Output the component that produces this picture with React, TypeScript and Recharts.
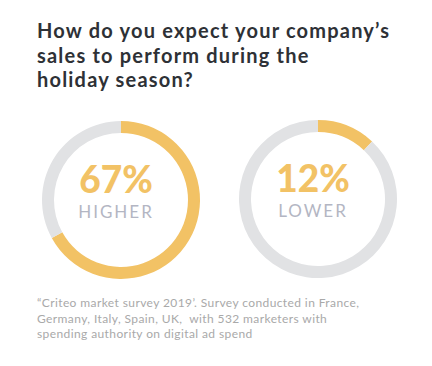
import React from 'react';
import { PieChart, Pie, Cell } from 'recharts';

const categories = ['HIGHER', 'LOWER'];
const percents = [67, 12];
const title = ['How do you expect your company\u2019s', 'sales to perform during the', 'holiday season?'];
const footnote = [
  '\u201CCriteo market survey 2019\u2019. Survey conducted in France,',
  'Germany, Italy, Spain, UK,  with 532 marketers with',
  'spending authority on digital ad spend',
];

const ORANGE = '#F2C265';
const GRAY = '#E1E2E4';
const centers = [
  { cx: 116, cy: 195 },
  { cx: 313, cy: 194 },
];
const FONT = 'Lato, "Open Sans", sans-serif';

export default function App() {
  return (
    <div style={{ position: 'absolute', left: 0, top: 0, width: 432, height: 366, background: '#fff', fontFamily: FONT }}>
      <div style={{ position: 'absolute', left: 37, top: 18, fontSize: 20, fontWeight: 700, color: '#2E3136', lineHeight: '24.5px', letterSpacing: 1.2 }}>
        {title.map((t, i) => (
          <div key={i} style={{ whiteSpace: 'pre' }}>{t}</div>
        ))}
      </div>
      <div style={{ position: 'absolute', left: 0, top: 0 }}>
        <PieChart width={432} height={366}>
          {categories.map((c, i) => (
            <Pie
              key={c}
              data={[
                { name: c, value: percents[i] },
                { name: 'rest', value: 100 - percents[i] },
              ]}
              dataKey="value"
              cx={centers[i].cx}
              cy={centers[i].cy}
              innerRadius={67}
              outerRadius={79}
              startAngle={90}
              endAngle={-270}
              stroke="none"
              isAnimationActive={false}
            >
              <Cell fill={ORANGE} />
              <Cell fill={GRAY} />
            </Pie>
          ))}
        </PieChart>
      </div>
      {categories.map((c, i) => (
        <div key={c} style={{ position: 'absolute', left: centers[i].cx - 80, top: centers[i].cy - 36, width: 160, textAlign: 'center' }}>
          <div style={{ fontSize: 37, fontWeight: 900, color: ORANGE, lineHeight: '40px' }}>{percents[i]}%</div>
          <div style={{ fontSize: 17, color: '#B3B6C3', letterSpacing: 2, lineHeight: '20px', marginTop: 3 }}>{c}</div>
        </div>
      ))}
      <div style={{ position: 'absolute', left: 37, top: 295, fontSize: 12, color: '#A9A9A9', lineHeight: '15.5px', letterSpacing: 0.4 }}>
        {footnote.map((t, i) => (
          <div key={i} style={{ whiteSpace: 'pre' }}>{t}</div>
        ))}
      </div>
    </div>
  );
}
